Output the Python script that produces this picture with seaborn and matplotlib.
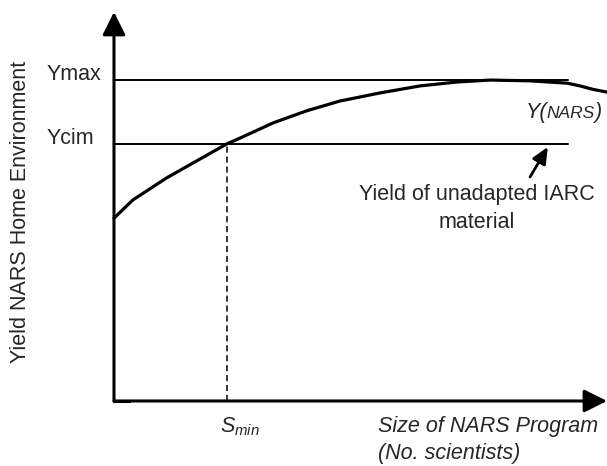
import matplotlib
matplotlib.use("Agg")
import matplotlib.pyplot as plt
import seaborn as sns

# curve (size of programme vs yield, arbitrary units)
nars_size = [0, 3.85, 10.75, 22.9, 25.6, 32.3, 39.1, 45.8, 54.0, 62.1, 69.6, 76.3, 84.4, 91.9, 94.5, 97.2, 100]
nars_yield = [47.0, 51.7, 57.4, 66.1, 67.6, 71.5, 74.6, 77.1, 79.2, 81.0, 82.0, 82.5, 82.3, 81.7, 81.0, 80.1, 79.4]

y_max = 82.5
y_cim = 66.1
s_min = 22.9
line_end = 92
level_labels = ["Ymax", "Ycim"]
level_values = [y_max, y_cim]

sns.set_style("white")
plt.rcParams['font.family'] = ['Liberation Sans', 'DejaVu Sans']
plt.rcParams['mathtext.fontset'] = 'custom'
plt.rcParams['mathtext.it'] = 'Liberation Sans:italic'
plt.rcParams['mathtext.rm'] = 'Liberation Sans'

fs = 15.5
fig = plt.figure(figsize=(6.07, 4.66), dpi=100)
ax = fig.add_axes([0, 0, 1, 1])
ax.set_xlim(-23.12, 100)
ax.set_ylim(-16.71, 103.08)
ax.axis("off")

# horizontal reference levels
for lab, val in zip(level_labels, level_values):
    ax.plot([0, line_end], [val, val], color="black", lw=1.4)
    ax.text(-13.6, val, lab, fontsize=fs, ha="left", va="baseline")

# Smin dashed drop line
ax.plot([s_min, s_min], [0, y_cim], color="black", lw=1.1, linestyle=(0, (4, 2.5)))

# yield curve
sns.lineplot(x=nars_size, y=nars_yield, ax=ax, color="black", lw=2.3)
ax.lines[-1].set_solid_joinstyle("round")

# axes with arrow heads
arrow = dict(arrowstyle="-|>,head_length=14,head_width=7", mutation_scale=1,
             color="black", lw=2.2, shrinkA=0, shrinkB=0)
ax.annotate("", xy=(100, 0), xytext=(0, 0), arrowprops=arrow)
ax.annotate("", xy=(0, 100), xytext=(0, 0), arrowprops=arrow)
ax.plot([0, 3], [0, 0], color="black", lw=2.2, solid_capstyle="projecting")

# labels
ax.text(-18.9, 48.6, "Yield NARS Home Environment", fontsize=fs, rotation=90,
        ha="center", va="center")
ax.text(53.5, -8.0, "Size of NARS Program", fontsize=fs, style="italic", ha="left", va="baseline")
ax.text(53.5, -14.9, "(No. scientists)", fontsize=fs, style="italic", ha="left", va="baseline")
ax.text(21.5, -8.0, r"$S_{min}$", fontsize=fs, ha="left", va="baseline")

# Y(NARS) with smaller NARS, all on one baseline
fig.canvas.draw()
inv = ax.transData.inverted()
x_pos = 83.6
for piece, size in [("Y(", fs), ("NARS", 12.5), (")", fs)]:
    t = ax.text(x_pos, 72.8, piece, fontsize=size, style="italic", ha="left", va="baseline")
    bb = t.get_window_extent(renderer=fig.canvas.get_renderer())
    x_pos = inv.transform((bb.x1 - 1, bb.y0))[0]

# note on the IARC line
ax.annotate("", xy=(88.0, 65.3), xytext=(84.4, 57.6),
            arrowprops=dict(arrowstyle="-|>,head_length=10,head_width=4.5", mutation_scale=1,
                            color="black", lw=2, shrinkA=0, shrinkB=0))
ax.text(73.6, 51.7, "Yield of unadapted IARC", fontsize=fs, ha="center", va="baseline")
ax.text(73.6, 44.5, "material", fontsize=fs, ha="center", va="baseline")

fig.savefig("out.png", dpi=100)
